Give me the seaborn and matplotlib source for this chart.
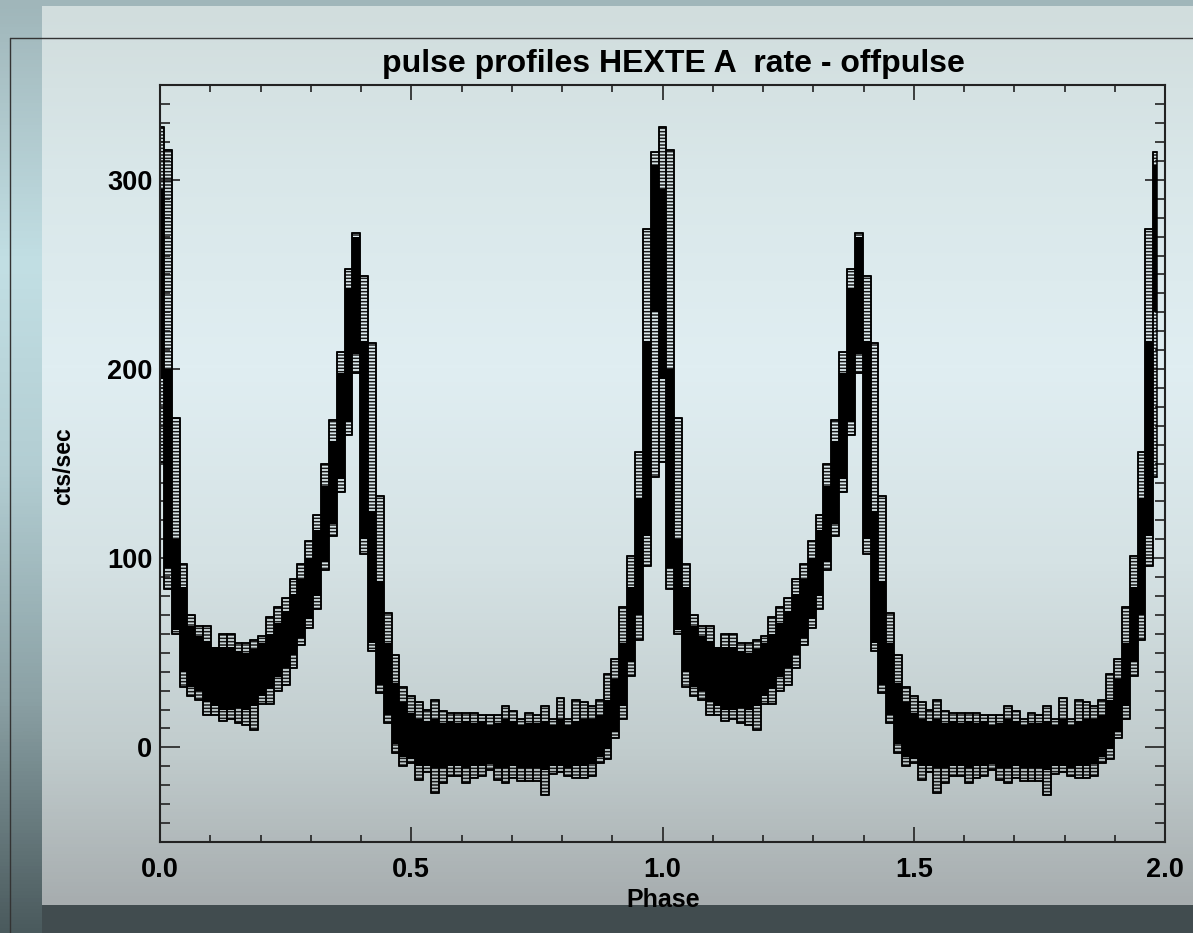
import numpy as np
import pandas as pd
import seaborn as sns
import matplotlib.pyplot as plt
from matplotlib.colors import LinearSegmentedColormap
from matplotlib.ticker import MultipleLocator, FormatStrFormatter

# Pulse profile, 64 phase bins per period (cts/sec).
# Many overlapping profiles -> kept as envelope (max/min) and dense core (hi/lo)
rate_max = [328, 316, 174, 97, 70, 64, 64, 52, 60, 60, 55, 55, 57, 59, 69, 74,
            79, 89, 97, 109, 123, 150, 173, 209, 253, 272, 249, 214, 133, 71, 49, 32,
            27, 24, 20, 25, 19, 18, 18, 18, 18, 17, 17, 17, 22, 19, 15, 18,
            17, 22, 15, 26, 15, 25, 24, 22, 25, 39, 47, 74, 101, 156, 274, 315]
rate_min = [151, 84, 60, 32, 27, 25, 17, 17, 14, 15, 13, 12, 9, 23, 23, 30,
            33, 42, 54, 63, 73, 94, 112, 135, 165, 198, 102, 51, 29, 13, -3, -10,
            -8, -17, -13, -24, -19, -15, -15, -19, -16, -15, -12, -17, -19, -16, -18, -18,
            -18, -25, -14, -13, -15, -16, -16, -15, -8, -6, 5, 15, 38, 57, 96, 143]
core_hi = [295, 200, 110, 85, 64, 59, 56, 53, 53, 53, 51, 50, 52, 55, 60, 66,
           72, 81, 89, 100, 115, 138, 162, 198, 243, 270, 215, 125, 88, 55, 34, 24,
           18, 15, 14, 15, 13, 14, 13, 14, 13, 14, 12, 13, 15, 14, 12, 13,
           13, 14, 12, 15, 12, 14, 15, 15, 17, 25, 36, 55, 85, 132, 215, 308]
core_lo = [195, 95, 62, 40, 32, 30, 24, 22, 20, 20, 21, 20, 22, 27, 31, 37,
           42, 49, 58, 68, 80, 98, 118, 142, 172, 208, 110, 55, 33, 17, 2, -5,
           -6, -10, -10, -11, -11, -10, -10, -11, -10, -10, -9, -11, -11, -10, -11, -11,
           -11, -12, -10, -10, -11, -10, -10, -9, -5, -1, 8, 22, 45, 70, 112, 230]

n_bins = 64
n_periods = 2  # profile is shown twice, phase 0..2

phase = np.arange(n_bins * n_periods) / n_bins
df = pd.DataFrame({
    'phase': phase,
    'max': np.tile(rate_max, n_periods),
    'min': np.tile(rate_min, n_periods),
    'hi': np.tile(core_hi, n_periods),
    'lo': np.tile(core_lo, n_periods),
})

sns.set_style('ticks')
plt.rcParams['font.family'] = ['Liberation Sans', 'DejaVu Sans']
plt.rcParams['hatch.linewidth'] = 1.1
plt.rcParams['text.color'] = 'black'

W, H = 1193, 933
fig = plt.figure(figsize=(W / 100, H / 100), dpi=100)


# background: gradients in pixel coordinates
def vgrad(ax, extent, colors):
    cmap = LinearSegmentedColormap.from_list('g', colors)
    grad = np.linspace(0, 1, 256).reshape(-1, 1)
    ax.imshow(grad, cmap=cmap, extent=extent, aspect='auto',
              interpolation='bilinear', origin='upper')


bg = fig.add_axes([0, 0, 1, 1], zorder=-10)
vgrad(bg, (0, W, H, 0), [(0, '#a0b6ba'), (0.28, '#c2dfe4'), (0.5, '#b3ced3'),
                         (0.75, '#8ba1a5'), (1, '#4a5a5d')])
vgrad(bg, (42, W, 905, 6), [(0, '#d1dddd'), (0.18, '#d9e7e9'), (0.4, '#e0eef2'),
                            (0.62, '#d5e2e4'), (0.83, '#c1cccd'), (1, '#a7adaf')])
bg.fill_between([42, W], 905, H, color='#414c4f', lw=0)
bg.plot([10, W], [38, 38], color='#333333', lw=1)
bg.plot([10, 10], [38, H], color='#333333', lw=1)
bg.set_xlim(0, W)
bg.set_ylim(H, 0)
bg.axis('off')

# main plot area
ax = fig.add_axes([160 / W, 1 - 842 / H, 1005 / W, (842 - 85.3) / H])
ax.patch.set_alpha(0)

# histogram-style bins centred on each phase point; last bin is a half bin
width = np.full(len(df), 1 / n_bins)
width[-1] = 0.5 / n_bins
left = df['phase'] - 0.5 / n_bins
span = df['max'] - df['min']
# stripes of the individual profiles
ax.bar(left, span, bottom=df['min'], width=width, align='edge', facecolor='none',
       edgecolor='#1a1a1a', linewidth=0, hatch='-----')
# envelope boxes
ax.bar(left, span, bottom=df['min'], width=width, align='edge', facecolor='none',
       edgecolor='black', linewidth=1.1)
# dense core where most profiles overlap
ax.bar(left, df['hi'] - df['lo'], bottom=df['lo'], width=width, align='edge',
       color='black', linewidth=0)
sns.lineplot(data=df, x='phase', y='max', drawstyle='steps-mid', color='black',
             lw=1.1, ax=ax)
sns.lineplot(data=df, x='phase', y='min', drawstyle='steps-mid', color='black',
             lw=1.1, ax=ax)

ax.set_xlim(0, 2)
ax.set_ylim(-50, 350)
ax.set_xlabel('')
ax.set_ylabel('')
ax.xaxis.set_major_locator(MultipleLocator(0.5))
ax.xaxis.set_minor_locator(MultipleLocator(0.1))
ax.xaxis.set_major_formatter(FormatStrFormatter('%.1f'))
ax.yaxis.set_major_locator(MultipleLocator(100))
ax.yaxis.set_minor_locator(MultipleLocator(10))
ax.tick_params(which='both', direction='in', top=True, right=True,
               width=1.2, color='#222222', labelsize=19.5, labelcolor='black')
ax.tick_params(axis='x', which='major', length=10.5, pad=11)
ax.tick_params(axis='x', which='minor', length=5)
ax.tick_params(axis='y', which='major', length=14.5, pad=5.5)
ax.tick_params(axis='y', which='minor', length=7.2)
for lab in ax.get_xticklabels() + ax.get_yticklabels():
    lab.set_fontweight('bold')
for sp in ax.spines.values():
    sp.set_linewidth(1.5)
    sp.set_color('#222222')

fig.text(673 / W, 1 - 72 / H, 'pulse profiles HEXTE A  rate - offpulse',
         ha='center', va='baseline', fontsize=23, fontweight='bold')
fig.text(663 / W, 1 - 907 / H, 'Phase', ha='center', va='baseline',
         fontsize=18, fontweight='bold')
fig.text(64 / W, 1 - 466 / H, 'cts/sec', ha='center', va='center',
         rotation=90, fontsize=16.5, fontweight='bold')

fig.savefig('out.png', dpi=100)
